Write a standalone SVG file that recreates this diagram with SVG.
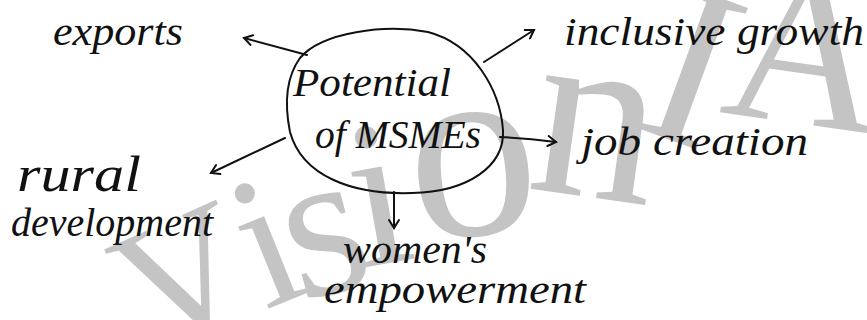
<svg xmlns="http://www.w3.org/2000/svg" width="867" height="320" viewBox="0 0 867 320">
<defs>
<style>
.wm{font-family:"Liberation Serif",serif;fill:#c4c4c4}
.hw{font-family:"Liberation Serif",serif;font-style:italic;font-size:40px;fill:#111}
.ln{fill:none;stroke:#111;stroke-width:2;stroke-linecap:round;stroke-linejoin:round}
</style>
<marker id="ah" viewBox="0 0 12 12" refX="10" refY="6" markerWidth="12" markerHeight="12" markerUnits="userSpaceOnUse" orient="auto">
<path d="M2,1 L10,6 L2,11" fill="none" stroke="#111" stroke-width="2" stroke-linecap="round"/>
</marker>
</defs>
<rect width="867" height="320" fill="#fff"/>
<text class="wm"><tspan x="149" y="355" font-size="175" rotate="-24">V</tspan><tspan x="265" y="310" font-size="190" rotate="-22">i</tspan><tspan x="300" y="302" font-size="210" rotate="-15">s</tspan><tspan x="361" y="268" font-size="210" rotate="-10">i</tspan><tspan x="414" y="240" font-size="260" rotate="-5">o</tspan><tspan x="525" y="188" font-size="250" rotate="8">n</tspan><tspan x="632" y="126" font-size="230" rotate="20">I</tspan><tspan x="718" y="112" font-size="220" rotate="8">A</tspan></text>
<g id="center">
<path class="ln" d="M300,58 C322,32 385,24 428,32 C474,44 500,90 503,130 C505,166 468,192 412,193 C352,195 302,176 290,132 C284,102 287,76 300,58 Z"/>
<text class="hw" x="293" y="96" textLength="158" lengthAdjust="spacingAndGlyphs">Potential</text>
<text class="hw" x="315" y="148" textLength="166" lengthAdjust="spacingAndGlyphs">of MSMEs</text>
</g>
<g id="exports"><text class="hw" x="53" y="45" textLength="130" lengthAdjust="spacingAndGlyphs">exports</text></g>
<g id="inclusive"><text class="hw" x="564" y="45" textLength="300" lengthAdjust="spacingAndGlyphs">inclusive growth</text></g>
<g id="job"><text class="hw" x="581" y="155" textLength="227" lengthAdjust="spacingAndGlyphs">job creation</text></g>
<g id="rural"><text class="hw" x="17" y="191" style="font-size:50px" textLength="124" lengthAdjust="spacingAndGlyphs">rural</text><text class="hw" x="11" y="236" textLength="202" lengthAdjust="spacingAndGlyphs">development</text></g>
<g id="women"><text class="hw" x="343" y="263" textLength="144" lengthAdjust="spacingAndGlyphs">women's</text><text class="hw" x="324" y="303" textLength="262" lengthAdjust="spacingAndGlyphs">empowerment</text></g>
<g id="connectors">
<line class="ln" x1="307" y1="55" x2="244" y2="38" marker-end="url(#ah)"/>
<line class="ln" x1="484" y1="62" x2="534" y2="30" marker-end="url(#ah)"/>
<path class="ln" d="M500,137 C520,138 540,140 556,142" marker-end="url(#ah)"/>
<line class="ln" x1="285" y1="138" x2="211" y2="173" marker-end="url(#ah)"/>
<line class="ln" x1="394" y1="192" x2="394" y2="228" marker-end="url(#ah)"/>
</g>
</svg>
